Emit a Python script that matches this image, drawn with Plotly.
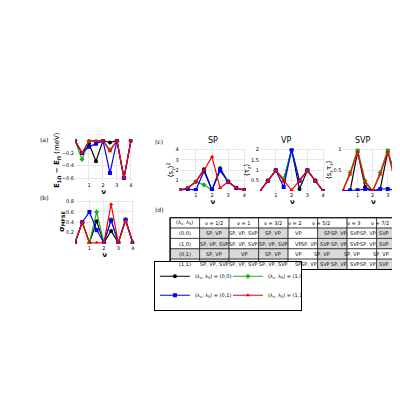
import plotly.graph_objects as go

nu = [0, 0.5, 1, 1.5, 2, 2.5, 3, 3.5, 4]
names = ["(λ<sub>ν</sub>, λ<sub>S</sub>) = (0,0)", "(λ<sub>ν</sub>, λ<sub>S</sub>) = (1,0)",
         "(λ<sub>ν</sub>, λ<sub>S</sub>) = (0,1)", "(λ<sub>ν</sub>, λ<sub>S</sub>) = (1,1)"]
colors = ["black", "#22aa22", "blue", "red"]
symbols = ["circle", "diamond", "square", "triangle-up"]

# panel (a) energy gap, order: (0,0), (1,0), (0,1), (1,1)
gap = [[0, -0.2, -0.05, -0.33, 0, -0.03, 0, -0.6, 0],
       [0, -0.3, 0, -0.02, 0, -0.15, 0, -0.6, 0],
       [0, -0.2, -0.1, -0.05, 0, -0.52, 0, -0.6, 0],
       [0, -0.2, 0, 0, 0, -0.17, 0, -0.6, 0]]
# panel (b)
sigma = [[0, 0.4, 0, 0.42, 0, 0.23, 0, 0.45, 0],
         [0, 0.4, 0, 0.6, 0, 0.45, 0, 0.45, 0],
         [0, 0.4, 0.6, 0.25, 0, 0.44, 0, 0.45, 0],
         [0, 0.4, 0, 0, 0, 0.75, 0, 0.42, 0]]
# panel (c)
sp = [[0.1, 0.3, 0.9, 2.1, 0.1, 2.2, 0.9, 0.3, 0.1],
      [0.1, 0.3, 0.9, 0.6, 0.1, 2.0, 0.9, 0.3, 0.1],
      [0.1, 0.2, 0.1, 1.9, 0.1, 2.0, 0.9, 0.3, 0.1],
      [0.1, 0.3, 0.9, 2.0, 3.3, 0.3, 0.9, 0.3, 0.1]]
vp = [[0, 0.5, 1, 0.5, 2, 0.1, 1, 0.5, 0],
      [0, 0.5, 1, 0.6, 2, 0.5, 1, 0.5, 0],
      [0, 0.5, 1, 0.2, 2, 0.5, 1, 0.5, 0],
      [0, 0.5, 1, 0.5, 0.05, 0.5, 1, 0.5, 0]]
svp = [[0, 0.0, 0.95, 0.1, 0, 0.05, 0.95, 0.4, 0],
       [0, 0.45, 1, 0.25, 0, 0.45, 1, 0.3, 0],
       [0, 0.02, 0.02, 0.05, 0, 0.05, 0.05, 0.03, 0],
       [0, 0.4, 0.95, 0.2, 0, 0.4, 0.95, 0.2, 0]]

cols = ["(λ<sub>ν</sub>, λ<sub>S</sub>)", "ν = 1/2", "ν = 1", "ν = 3/2", "ν = 2", "ν = 5/2", "ν = 3", "ν = 7/2"]
rows = [["(0,0)", "SP, VP", "SP, VP, SVP", "SP, VP", "VP", "SP", "SP, VP, SVP", "SP, VP, SVP"],
        ["(1,0)", "SP, VP, SVP", "SP, VP, SVP", "SP, VP, SVP", "VP", "SP, VP, SVP", "SP, VP, SVP", "SP, VP, SVP"],
        ["(0,1)", "SP, VP", "VP", "SP, VP", "VP", "SP, VP", "SP, VP", "SP, VP"],
        ["(1,1)", "SP, VP, SVP", "SP, VP, SVP", "SP, VP, SVP", "SP", "SP, VP, SVP", "SP, VP, SVP", "SP, VP, SVP"]]
shade = [[0, 1, 0, 1, 0, 1, 0, 1],
         [0, 1, 0, 1, 0, 1, 0, 1],
         [1, 1, 1, 1, 0, 1, 0, 0],
         [0, 1, 0, 0, 0, 1, 0, 1]]

fig = go.Figure()
panels = [("x", "y", gap, True), ("x2", "y2", sigma, False), ("x3", "y3", sp, False),
          ("x4", "y4", vp, False), ("x5", "y5", svp, False)]
for xa, ya, data, leg in panels:
    for i in range(4):
        fig.add_trace(go.Scatter(x=nu, y=data[i], xaxis=xa, yaxis=ya, mode="lines+markers",
                                 name=names[i], showlegend=leg, line=dict(color=colors[i], width=1.2),
                                 marker=dict(color=colors[i], symbol=symbols[i], size=4)))

# table (d) drawn with shapes + text
tx0, tx1, ty1 = 0.357, 0.995, 0.478
cw = (tx1 - tx0) / 8
rh = 0.026
all_rows = [cols] + rows
for r, row in enumerate(all_rows):
    for j, txt in enumerate(row):
        x0 = tx0 + j * cw
        y1 = ty1 - r * rh
        fill = "#d9d9d9" if r > 0 and shade[r - 1][j] else "white"
        fig.add_shape(type="rect", xref="paper", yref="paper", x0=x0, x1=x0 + cw, y0=y1 - rh, y1=y1,
                      fillcolor=fill, line=dict(color="black", width=0.6), layer="below")
        fig.add_annotation(text=txt, x=x0 + cw / 2, y=y1 - rh / 2, xref="paper", yref="paper",
                           showarrow=False, font=dict(size=5, color="black"))
fig.add_shape(type="rect", xref="paper", yref="paper", x0=tx0, x1=tx1, y0=ty1 - 5 * rh, y1=ty1,
              line=dict(color="black", width=1.2))

ax = dict(showgrid=True, gridcolor="#e8e8e8", zeroline=False, showline=False,
          tickfont=dict(size=5, color="black"), ticks="", title_standoff=0)
tf = dict(size=7, family="DejaVu Sans", color="black")
nu_ticks = dict(tickvals=[1, 2, 3, 4], range=[0, 4.1])
fig.update_layout(
    width=400, height=400, margin=dict(l=0, r=0, t=0, b=0),
    plot_bgcolor="white", paper_bgcolor="white", font=dict(family="DejaVu Sans", color="black"),
    xaxis=dict(ax, domain=[0.10, 0.255], anchor="y", **nu_ticks, title=dict(text="<b>ν</b>", font=tf)),
    yaxis=dict(ax, domain=[0.57, 0.675], anchor="x", range=[-0.65, 0.02], tickvals=[-0.6, -0.4, -0.2],
               title=dict(text="<b>E<sub>1Ω</sub> − E<sub>Π</sub></b> (meV)", font=tf)),
    xaxis2=dict(ax, domain=[0.10, 0.26], anchor="y2", **nu_ticks, title=dict(text="<b>ν</b>", font=tf)),
    yaxis2=dict(ax, domain=[0.4125, 0.525], anchor="x2", range=[-0.02, 0.85], tickvals=[0.2, 0.4, 0.6, 0.8],
                title=dict(text="<b>σ<sub>MFSE</sub></b>", font=tf)),
    xaxis3=dict(ax, domain=[0.383, 0.562], anchor="y3", **nu_ticks, title=dict(text="<b>ν</b>", font=tf)),
    yaxis3=dict(ax, domain=[0.545, 0.652], anchor="x3", range=[0, 4.1], tickvals=[1, 2, 3, 4],
                title=dict(text="⟨s<sub>z</sub>⟩<sup>2</sup>", font=tf)),
    xaxis4=dict(ax, domain=[0.6, 0.775], anchor="y4", **nu_ticks, title=dict(text="<b>ν</b>", font=tf)),
    yaxis4=dict(ax, domain=[0.545, 0.652], anchor="x4", range=[0, 2.05], tickvals=[0.5, 1, 1.5, 2],
                title=dict(text="⟨τ<sub>z</sub>⟩", font=tf)),
    xaxis5=dict(ax, domain=[0.823, 0.99], anchor="y5", **nu_ticks, title=dict(text="<b>ν</b>", font=tf)),
    yaxis5=dict(ax, domain=[0.545, 0.652], anchor="x5", range=[0, 1.03], tickvals=[0.5, 1],
                title=dict(text="⟨s<sub>z</sub>τ<sub>z</sub>⟩", font=tf)),
    legend=dict(orientation="h", x=0.32, y=0.37, xanchor="right", yanchor="top", entrywidth=28,
                font=dict(size=5, color="black"), bordercolor="black", borderwidth=1, itemwidth=30,
                tracegroupgap=0),
)
labels = [("(a)", 0.0, 0.675), ("(b)", 0.0, 0.53), ("(c)", 0.31, 0.67), ("(d)", 0.31, 0.5)]
for t, x, y in labels:
    fig.add_annotation(text=t, x=x, y=y, xref="paper", yref="paper", showarrow=False,
                       xanchor="left", yanchor="middle", font=dict(size=6, color="black"))
for t, x in [("SP", 0.472), ("VP", 0.688), ("SVP", 0.906)]:
    fig.add_annotation(text=t, x=x, y=0.655, xref="paper", yref="paper", showarrow=False,
                       yanchor="bottom", font=dict(size=8, color="black"))

fig.write_html("out.html")
